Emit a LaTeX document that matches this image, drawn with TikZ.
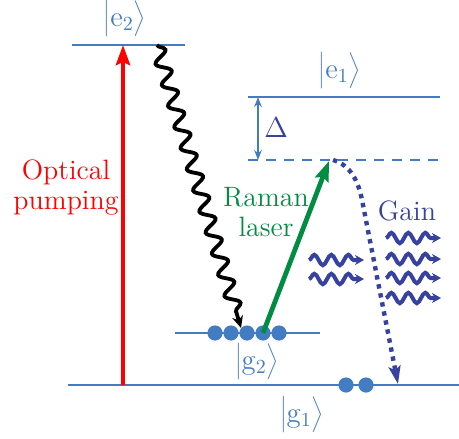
\documentclass[tikz,border=0pt]{standalone}
\usetikzlibrary{arrows.meta,decorations.pathmorphing}
\definecolor{lvl}{RGB}{68,124,196}
\definecolor{navy}{RGB}{55,65,160}
\definecolor{rgreen}{RGB}{0,140,65}
\newcommand{\myket}[1]{$\left|\vphantom{\rule[-5.5pt]{0pt}{17.5pt}}\mathrm{#1}\right\rangle$}
\begin{document}
\begin{tikzpicture}[x=0.5pt,y=-0.5pt,
  font=\fontsize{14}{15}\selectfont,
  level/.style={lvl,line width=1pt},
  virt/.style={lvl,line width=0.7pt,dash pattern=on 5pt off 4pt},
  ket/.style={lvl,inner sep=0pt},
  dot/.style={circle,fill=lvl,inner sep=0pt,minimum size=7.6pt},
  pump/.style={red,line width=2.4pt,-{Stealth[length=10pt,width=7pt,inset=1.5pt]}},
  raman/.style={rgreen,line width=2.4pt,-{Stealth[length=10pt,width=7pt,inset=1.5pt]}},
  decay/.style={black,line width=1.9pt,decorate,
    decoration={snake,amplitude=3.4pt,segment length=11pt,post length=4pt},
    -{Stealth[length=6pt,width=5.5pt]}},
  emis/.style={navy,line width=2.2pt,dash pattern=on 2.2pt off 2.4pt,
    -{Stealth[length=9pt,width=6pt,inset=2pt]}},
  photon/.style={navy,line width=2pt,decorate,
    decoration={snake,amplitude=2.6pt,segment length=8.5pt,post length=3pt},
    -{Stealth[length=4.5pt,width=5pt]}},
  delta/.style={lvl,line width=0.8pt,{Stealth[length=5pt,width=3.8pt]}-{Stealth[length=5pt,width=3.8pt]}}
]
\useasboundingbox (0,0) rectangle (459,438);

% levels
\coordinate (e2L) at (72,45);  \coordinate (e2R) at (185,45);
\coordinate (e1L) at (248,97); \coordinate (e1R) at (440,97);
\coordinate (vL) at (248,160); \coordinate (vR) at (440,160);
\coordinate (g2L) at (175,333);\coordinate (g2R) at (320,333);
\coordinate (g1L) at (68,385); \coordinate (g1R) at (459,385);
\draw[level] (e2L) -- (e2R);
\draw[level] (e1L) -- (e1R);
\draw[virt] (vL) -- (vR);
\draw[level] (g2L) -- (g2R);
\draw[level] (g1L) -- (g1R);

% kets
\node[ket] (ke2) at (125,19) {\myket{e_2}};
\node[ket] (ke1) at (340,71) {\myket{e_1}};
\node[ket] (kg2) at (257,362) {\myket{g_2}};
\node[ket] (kg1) at (302,415) {\myket{g_1}};

% populations
\foreach \i/\x in {1/215,2/231,3/247,4/263,5/279}
  \node[dot] (d\i) at (\x,333) {};
\node[dot] (a1) at (346,385) {};
\node[dot] (a2) at (366,385) {};

% Delta
\coordinate (dT) at (258,97); \coordinate (dB) at (258,160);
\draw[delta] (dT) -- (dB);
\node[navy] (dl) at (276,128) {$\Delta$};

% optical pumping
\coordinate (pS) at (123,385); \coordinate (pE) at (123,45);
\draw[pump] (pS) -- (pE);
\node[red,align=center] (opt) at (66,188) {Optical\\pumping};

% decay
\coordinate (wS) at (157,45); \coordinate (wE) at (241,328);
\draw[decay] (wS) -- (wE);

% Raman laser
\coordinate (rE) at (329,161);
\draw[raman] (d4.center) -- (rE);
\node[rgreen,align=center] (rl) at (266,212) {Raman\\laser};

% Gain emission
\coordinate (gS) at (333,160); \coordinate (gM) at (362,200); \coordinate (gE) at (398,384);
\draw[emis] (gS) .. controls (350,165) and (358,180) .. (gM) -- (gE);
\node[navy] (gain) at (407,211) {Gain};

% photons
\foreach \n/\xa/\xb/\y in {p1/309/364/260, p2/309/364/279, q1/386/441/238, q2/386/441/259, q3/386/441/278, q4/386/441/298}{
  \coordinate (\n s) at (\xa,\y); \coordinate (\n e) at (\xb,\y);
  \draw[photon] (\n s) -- (\n e);
}
\end{tikzpicture}
\end{document}
